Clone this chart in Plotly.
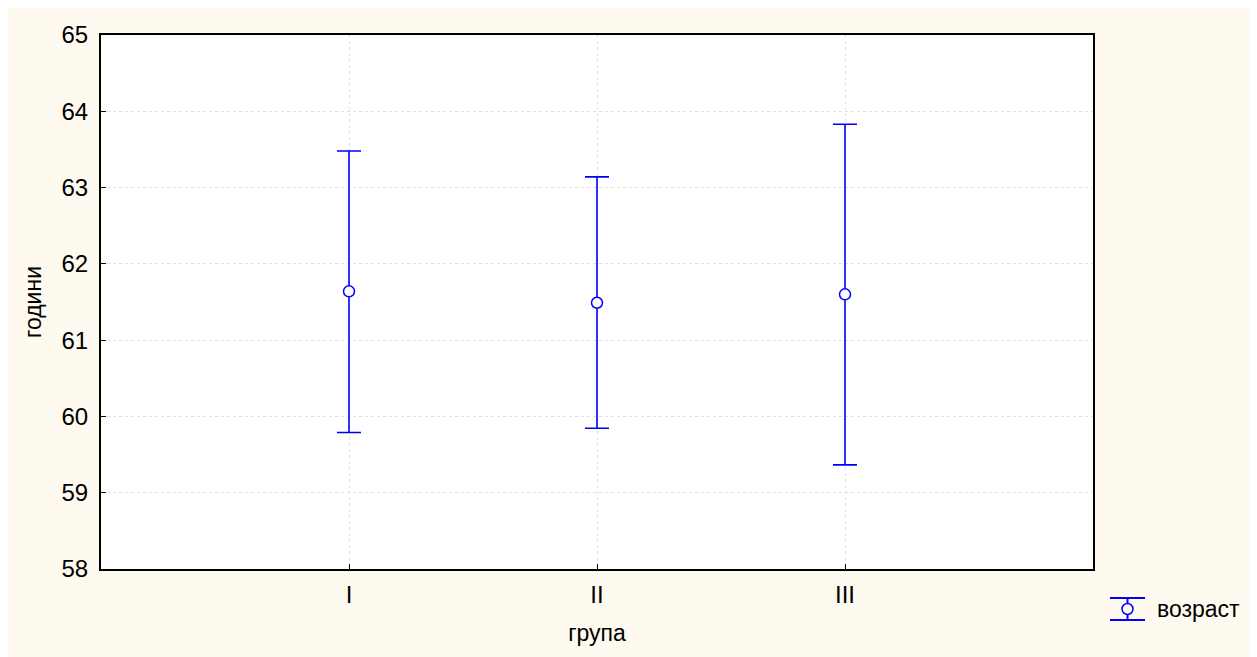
import plotly.graph_objects as go

groups = ["I", "II", "III"]
means = [61.64, 61.49, 61.60]
upper = [63.48, 63.14, 63.83]
lower = [59.79, 59.845, 59.365]
series_name = "возраст"
x_title = "група"
y_title = "години"
y_ticks = [58, 59, 60, 61, 62, 63, 64, 65]

# page body has an 8px margin; figure sized to fill the rest of the window
OFF = 8
W, H = 1249, 649
L, R, T, B = 93, 164, 27, 88
pw, ph = W - L - R, H - T - B

BLUE = "#0000ff"
CREAM = "#fffaf0"
FONT = "Liberation Sans, Arial, sans-serif"
FS_TICK = 24
FS_TITLE = 23
FS_LEG = 23

xpos = list(range(1, len(groups) + 1))
err_plus = [u - m for u, m in zip(upper, means)]
err_minus = [m - l for m, l in zip(means, lower)]

fig = go.Figure()
fig.add_trace(go.Scatter(
    x=xpos, y=means, mode="markers", name=series_name,
    marker=dict(symbol="circle", size=11, color="white",
                line=dict(color=BLUE, width=1.5)),
    error_y=dict(type="data", symmetric=False, array=err_plus,
                 arrayminus=err_minus, color=BLUE, thickness=1.6, width=12),
    showlegend=False,
))


def px_x(p):
    return (p - OFF - L) / pw


def px_y(p):
    return (H - B - (p - OFF)) / ph


# legend (error-bar style icon + label), in screen pixel positions
lx0, lx1, lxc = 1110, 1145, 1127.5
ly_top, ly_bot, lyc, lr = 598, 620, 609, 5.5
line_style = dict(color=BLUE, width=2)
shapes = [
    dict(type="line", xref="paper", yref="paper", x0=px_x(lx0), x1=px_x(lx1),
         y0=px_y(ly_top), y1=px_y(ly_top), line=line_style),
    dict(type="line", xref="paper", yref="paper", x0=px_x(lx0), x1=px_x(lx1),
         y0=px_y(ly_bot), y1=px_y(ly_bot), line=line_style),
    dict(type="line", xref="paper", yref="paper", x0=px_x(lxc), x1=px_x(lxc),
         y0=px_y(ly_top), y1=px_y(ly_bot), line=line_style),
    dict(type="circle", xref="paper", yref="paper",
         x0=px_x(lxc - lr), x1=px_x(lxc + lr), y0=px_y(lyc + lr), y1=px_y(lyc - lr),
         fillcolor=CREAM, line=dict(color=BLUE, width=1.5)),
]

annotations = [
    dict(text=series_name, xref="paper", yref="paper", x=px_x(1155), y=px_y(609),
         xanchor="left", yanchor="middle", showarrow=False,
         font=dict(family=FONT, size=FS_LEG, color="black")),
]

fig.update_layout(
    width=W, height=H,
    margin=dict(l=L, r=R, t=T, b=B, pad=0),
    paper_bgcolor=CREAM, plot_bgcolor="white",
    font=dict(family=FONT, size=FS_TICK, color="black"),
    shapes=shapes,
    annotations=annotations,
    showlegend=False,
    xaxis=dict(
        range=[0, len(groups) + 1], tickvals=xpos, ticktext=groups,
        showline=True, linecolor="black", linewidth=2, mirror=True,
        ticks="inside", ticklen=5, tickcolor="black",
        tickfont=dict(size=FS_TICK),
        showgrid=True, gridcolor="#e0e0e0", gridwidth=1, griddash="dot",
        zeroline=False, ticklabelstandoff=3,
        title=dict(text=x_title, standoff=18, font=dict(size=FS_TITLE)),
    ),
    yaxis=dict(
        range=[58, 65], tickvals=y_ticks,
        showline=True, linecolor="black", linewidth=2, mirror=True,
        ticks="inside", ticklen=5, tickcolor="black",
        tickfont=dict(size=FS_TICK),
        showgrid=True, gridcolor="#e0e0e0", gridwidth=1, griddash="dot",
        zeroline=False, ticklabelstandoff=6,
        title=dict(text=y_title, standoff=13, font=dict(size=FS_TITLE)),
    ),
)

fig.write_html("out.html")
